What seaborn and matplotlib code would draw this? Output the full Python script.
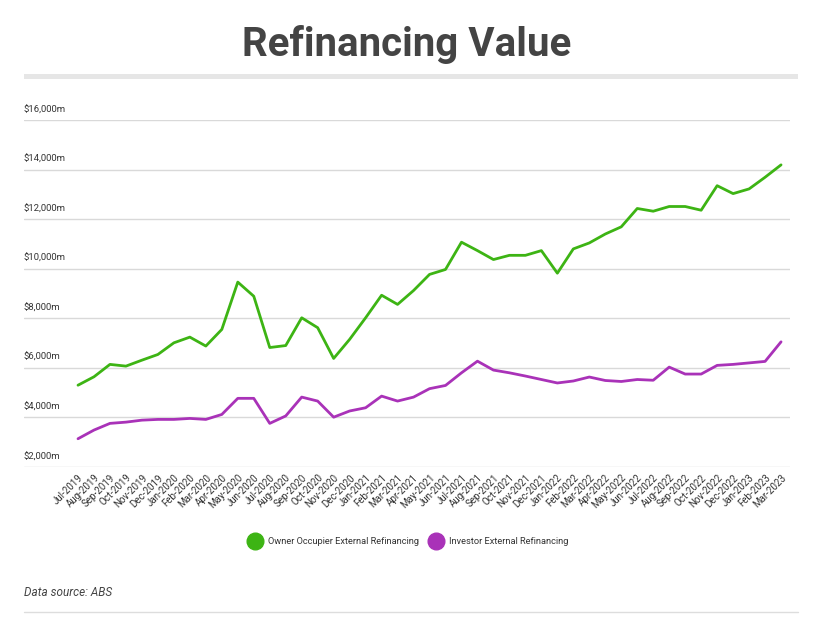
import matplotlib
matplotlib.use("Agg")

import numpy as np
import pandas as pd
import matplotlib.pyplot as plt
from matplotlib.lines import Line2D
import seaborn as sns

# month labels Jul-2019 .. Mar-2023
months = [
    "Jul-2019", "Aug-2019", "Sep-2019", "Oct-2019", "Nov-2019", "Dec-2019",
    "Jan-2020", "Feb-2020", "Mar-2020", "Apr-2020", "May-2020", "Jun-2020",
    "Jul-2020", "Aug-2020", "Sep-2020", "Oct-2020", "Nov-2020", "Dec-2020",
    "Jan-2021", "Feb-2021", "Mar-2021", "Apr-2021", "May-2021", "Jun-2021",
    "Jul-2021", "Aug-2021", "Sep-2021", "Oct-2021", "Nov-2021", "Dec-2021",
    "Jan-2022", "Feb-2022", "Mar-2022", "Apr-2022", "May-2022", "Jun-2022",
    "Jul-2022", "Aug-2022", "Sep-2022", "Oct-2022", "Nov-2022", "Dec-2022",
    "Jan-2023", "Feb-2023", "Mar-2023",
]

# $m
owner_occupier = [
    5300, 5640, 6140, 6070, 6310, 6540, 7010, 7240, 6880, 7550, 9460, 8890,
    6820, 6900, 8020, 7620, 6380, 7150, 8020, 8930, 8560, 9120, 9770, 9970,
    11070, 10730, 10370, 10540, 10540, 10730, 9820, 10800, 11040, 11400,
    11690, 12430, 12320, 12510, 12510, 12360, 13350, 13030, 13220, 13690,
    14190,
]
investor = [
    3140, 3490, 3760, 3810, 3890, 3920, 3920, 3960, 3920, 4120, 4770, 4770,
    3760, 4060, 4820, 4660, 4010, 4260, 4390, 4860, 4660, 4820, 5160, 5290,
    5800, 6270, 5910, 5800, 5670, 5530, 5390, 5470, 5630, 5490, 5450, 5530,
    5500, 6030, 5750, 5750, 6100, 6140, 6200, 6260, 7050,
]

series_names = ["Owner Occupier External Refinancing", "Investor External Refinancing"]
colors = ["#3db414", "#a932b8"]
y_ticks = [2000, 4000, 6000, 8000, 10000, 12000, 14000, 16000]

sns.set_style("white")
plt.rcParams["font.family"] = ["Roboto", "DejaVu Sans"]

df = pd.DataFrame({
    "idx": list(range(len(months))) * 2,
    "value": owner_occupier + investor,
    "series": [series_names[0]] * len(months) + [series_names[1]] * len(months),
})

W, H = 814, 622
fig = plt.figure(figsize=(W / 100, H / 100), dpi=100)
ax = fig.add_axes([24 / W, 1 - 467 / H, (790 - 24) / W, (467 - 120) / H])

sns.lineplot(data=df, x="idx", y="value", hue="series",
             palette=dict(zip(series_names, colors)), linewidth=2.0,
             legend=False, ax=ax, solid_joinstyle="round", solid_capstyle="round")

ax.set_xlim(-3.38, 44.56)
ax.set_ylim(2000, 16000)
for s in ax.spines.values():
    s.set_visible(False)
ax.set_yticks(y_ticks)
ax.set_yticklabels([])
ax.tick_params(axis="y", length=0)
ax.yaxis.grid(True, color="#d9d9d9", linewidth=1.0)
ax.set_axisbelow(True)
for v in y_ticks:
    ax.text(0, v + 230, f"${v:,}m", transform=ax.get_yaxis_transform(),
            ha="left", va="bottom", fontsize=6.8, color="#333333")

ax.set_xticks(range(len(months)))
ax.set_xticklabels(months, rotation=45, ha="right", rotation_mode="anchor",
                   fontsize=7, color="#333333")
ax.tick_params(axis="x", length=0, pad=4)
ax.set_xlabel("")
ax.set_ylabel("")

# title + grey rule
fig.text(0.5, 1 - 44 / H, "Refinancing Value", ha="center", va="center",
         fontsize=29, fontweight="bold", color="#444444")
fig.add_artist(plt.Rectangle((24 / W, 1 - 79 / H), (798 - 24) / W, 5 / H,
                             transform=fig.transFigure, color="#e6e6e6", lw=0))

handles = [Line2D([], [], marker="o", linestyle="", markersize=12,
                  markerfacecolor=c, markeredgecolor=c) for c in colors]
fig.legend(handles, series_names, loc="center", bbox_to_anchor=(0.5, 1 - 542 / H),
           ncol=2, frameon=False, fontsize=6.7, handletextpad=0.4,
           columnspacing=0.8, labelcolor="#333333")

fig.text(24 / W, 1 - 592 / H, "Data source: ABS", ha="left", va="center",
         fontsize=8.5, style="italic", color="#444444")
fig.add_artist(Line2D([24 / W, 798 / W], [1 - 612 / H, 1 - 612 / H],
                      transform=fig.transFigure, color="#dddddd", lw=1))

fig.savefig("out.png", dpi=100)
